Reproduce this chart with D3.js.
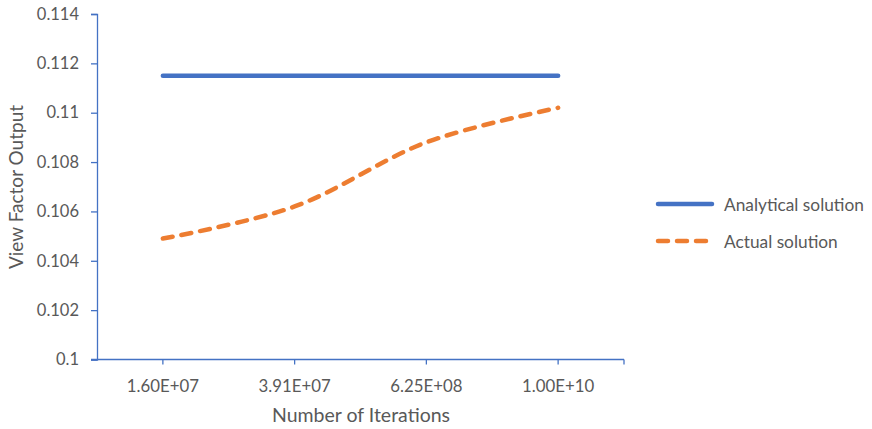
<!DOCTYPE html>
<html>
<head>
<meta charset="utf-8">
<script src="https://cdn.jsdelivr.net/npm/d3@7"></script>
<style>
  html, body { margin: 0; padding: 0; background: #fff; }
  svg text { font-family: Lato, "Open Sans", sans-serif; fill: #595959; }
</style>
</head>
<body>
<svg id="chart" width="872" height="429"></svg>
<script>
// Iteration counts (categories) and view factor results
const iterations = ["1.60E+07", "3.91E+07", "6.25E+08", "1.00E+10"];
const analytical = [0.1115, 0.1115, 0.1115, 0.1115];
const actual = [0.1049, 0.1062, 0.1088, 0.1102];
const yTicks = [0.1, 0.102, 0.104, 0.106, 0.108, 0.11, 0.112, 0.114];
const seriesNames = ["Analytical solution", "Actual solution"];

const svg = d3.select("#chart");
const plot = { left: 97, right: 624, top: 14, bottom: 359.5 };
const axisColor = "#4472C4";

const x = d3.scaleBand().domain(iterations).range([plot.left, plot.right]);
const y = d3.scaleLinear().domain([0.1, 0.114]).range([plot.bottom, plot.top]);

// Y axis
const yAxis = svg.append("g").attr("transform", `translate(${plot.left},0)`)
  .call(d3.axisLeft(y).tickValues(yTicks).tickSize(6).tickPadding(12)
    .tickFormat(d => String(+d.toFixed(3))));
yAxis.select(".domain").attr("stroke", axisColor).attr("stroke-width", 1.3);
yAxis.selectAll(".tick line").attr("stroke", axisColor).attr("stroke-width", 1.3);
yAxis.selectAll(".tick text").attr("font-size", 16.5).style("fill", "#595959")
  .style("font-family", "Lato, sans-serif");

// X axis: ticks at category centres plus the far end
const xAxis = svg.append("g").attr("transform", `translate(0,${plot.bottom})`);
xAxis.append("line").attr("x1", plot.left - 6).attr("x2", plot.right)
  .attr("stroke", axisColor).attr("stroke-width", 1.3);
const xTickPos = iterations.map(d => x(d) + x.bandwidth() / 2).concat([plot.right]);
xAxis.selectAll("line.tick").data(xTickPos).join("line").attr("class", "tick")
  .attr("x1", d => d).attr("x2", d => d).attr("y1", 0).attr("y2", 5)
  .attr("stroke", axisColor).attr("stroke-width", 1.3);
xAxis.selectAll("text").data(iterations).join("text")
  .attr("x", d => x(d) + x.bandwidth() / 2).attr("y", 32)
  .attr("text-anchor", "middle").attr("font-size", 16.8).text(d => d);

// Axis titles
svg.append("text").attr("x", 361).attr("y", 422).attr("text-anchor", "middle")
  .attr("font-size", 19.5).text("Number of Iterations");
svg.append("text").attr("transform", "translate(23,187) rotate(-90)")
  .attr("text-anchor", "middle").attr("font-size", 19).text("View Factor Output");

// Series lines (smoothed)
const cx = d => x(d) + x.bandwidth() / 2;
const line = d3.line().x((d, i) => cx(iterations[i])).y(d => y(d)).curve(d3.curveCatmullRom.alpha(0.5));

svg.append("path").datum(analytical).attr("d", line)
  .attr("fill", "none").attr("stroke", "#4472C4").attr("stroke-width", 4.5)
  .attr("stroke-linecap", "round");
svg.append("path").datum(actual).attr("d", line)
  .attr("fill", "none").attr("stroke", "#ED7D31").attr("stroke-width", 4.5)
  .attr("stroke-linecap", "round").attr("stroke-dasharray", "10,9");

// Legend
const legend = svg.append("g");
const legendStyles = [
  { color: "#4472C4", dash: null },
  { color: "#ED7D31", dash: "10,9" }
];
seriesNames.forEach((name, i) => {
  const ly = 204 + i * 37;
  legend.append("line").attr("x1", 658).attr("x2", 712).attr("y1", ly).attr("y2", ly)
    .attr("stroke", legendStyles[i].color).attr("stroke-width", 4.5)
    .attr("stroke-linecap", "round").attr("stroke-dasharray", legendStyles[i].dash);
  legend.append("text").attr("x", 724).attr("y", ly + 6.5).attr("font-size", 17.3).text(name);
});
</script>
</body>
</html>
